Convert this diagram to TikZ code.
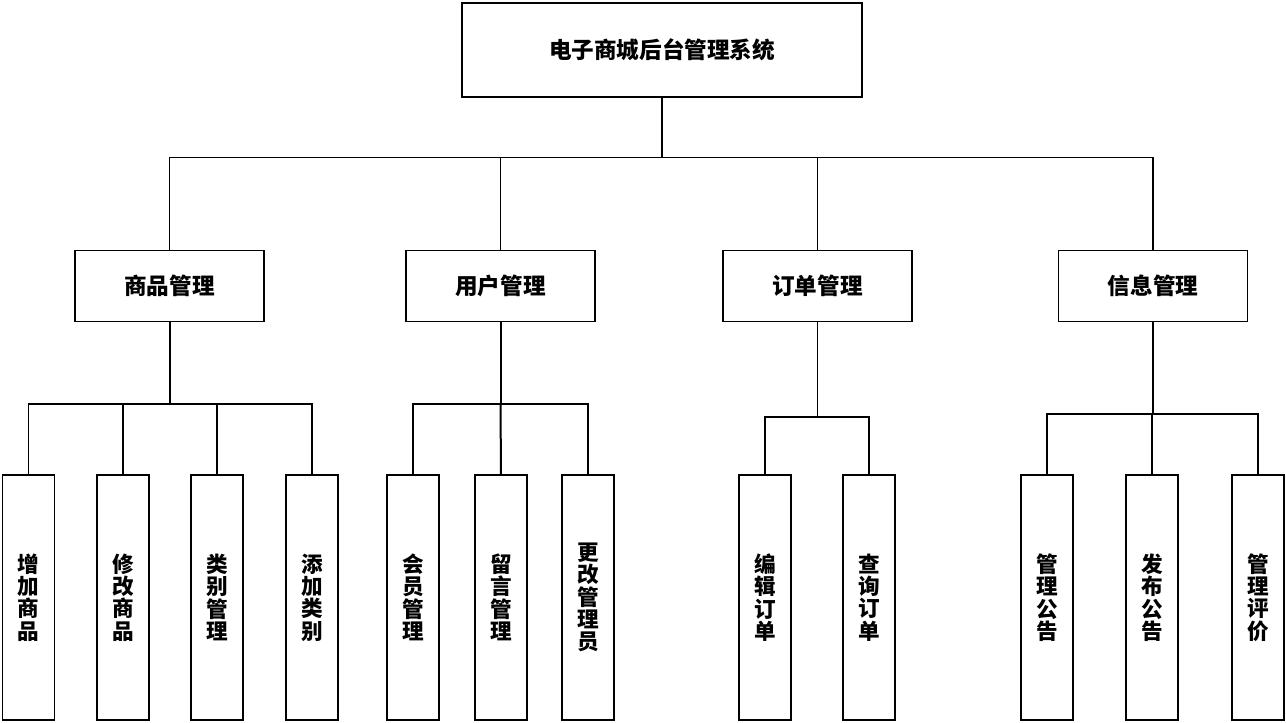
\documentclass[tikz,border=0pt]{standalone}
\usepackage{fontspec}
\setmainfont{Noto Sans CJK SC}
\begin{document}
\begin{tikzpicture}[x=0.5pt,y=-0.5pt,
  box/.style={draw=black, line width=0.55pt, fill=white, inner sep=0pt, align=center,
    font={\bfseries\fontsize{11.3}{11.3}\selectfont}},
  topbox/.style={box, minimum width=200pt, minimum height=47pt},
  midbox/.style={box, minimum width=94.5pt, minimum height=35.5pt},
  leafbox/.style={box, minimum width=26pt, minimum height=122.5pt,
    font={\bfseries\fontsize{10.8}{11.2}\selectfont}},
  link/.style={draw=black, line width=0.55pt},
  thick link/.style={draw=black, line width=1pt}]
\useasboundingbox (0,0) rectangle (1286,723);
% root
\node[topbox] (root) at (662,50) {电子商城后台管理系统};
% level 2
\node[midbox] (g1) at (169.5,286) {商品管理};
\node[midbox] (g2) at (500.5,286) {用户管理};
\node[midbox] (g3) at (817.5,286) {订单管理};
\node[midbox] (g4) at (1153,286) {信息管理};
% level 3
\node[leafbox] (a1) at (28.5,597.5) {增\\加\\商\\品};
\node[leafbox] (a2) at (123,597.5) {修\\改\\商\\品};
\node[leafbox] (a3) at (217,597.5) {类\\别\\管\\理};
\node[leafbox] (a4) at (312,597.5) {添\\加\\类\\别};
\node[leafbox] (b1) at (413,597.5) {会\\员\\管\\理};
\node[leafbox] (b2) at (501,597.5) {留\\言\\管\\理};
\node[leafbox] (b3) at (588,597.5) {更\\改\\管\\理\\员};
\node[leafbox] (c1) at (765,597.5) {编\\辑\\订\\单};
\node[leafbox] (c2) at (869,597.5) {查\\询\\订\\单};
\node[leafbox] (d1) at (1047,597.5) {管\\理\\公\\告};
\node[leafbox] (d2) at (1152,597.5) {发\\布\\公\\告};
\node[leafbox] (d3) at (1258,597.5) {管\\理\\评\\价};
% bus coordinates
\coordinate (r0) at (662,157.5);
\coordinate (s1) at (169.5,404);
\coordinate (s2) at (500.5,404);
\coordinate (s3) at (817.5,417);
\coordinate (s4) at (1153,414);
% root connectors
\draw[link] (root.south) -- (r0);
\draw[link] (r0) -| (g1.north);
\draw[link] (r0) -| (g2.north);
\draw[link] (r0) -| (g3.north);
\draw[link] (r0) -| (g4.north);
% group 1
\draw[thick link] (g1.south) -- (s1);
\draw[link] (s1) -| (a1.north);
\draw[link] (s1) -| (a2.north);
\draw[link] (s1) -| (a3.north);
\draw[link] (s1) -| (a4.north);
% group 2
\draw[thick link] (g2.south) -- (s2);
\draw[link] (s2) -| (b1.north);
\draw[thick link] (s2) -- (b2.north);
\draw[link] (s2) -| (b3.north);
% group 3
\draw[link] (g3.south) -- (s3);
\draw[link] (s3) -| (c1.north);
\draw[link] (s3) -| (c2.north);
% group 4
\draw[thick link] (g4.south) -- (s4);
\draw[link] (s4) -| (d1.north);
\draw[link] (s4) -| (d2.north);
\draw[link] (s4) -| (d3.north);
\end{tikzpicture}
\end{document}
